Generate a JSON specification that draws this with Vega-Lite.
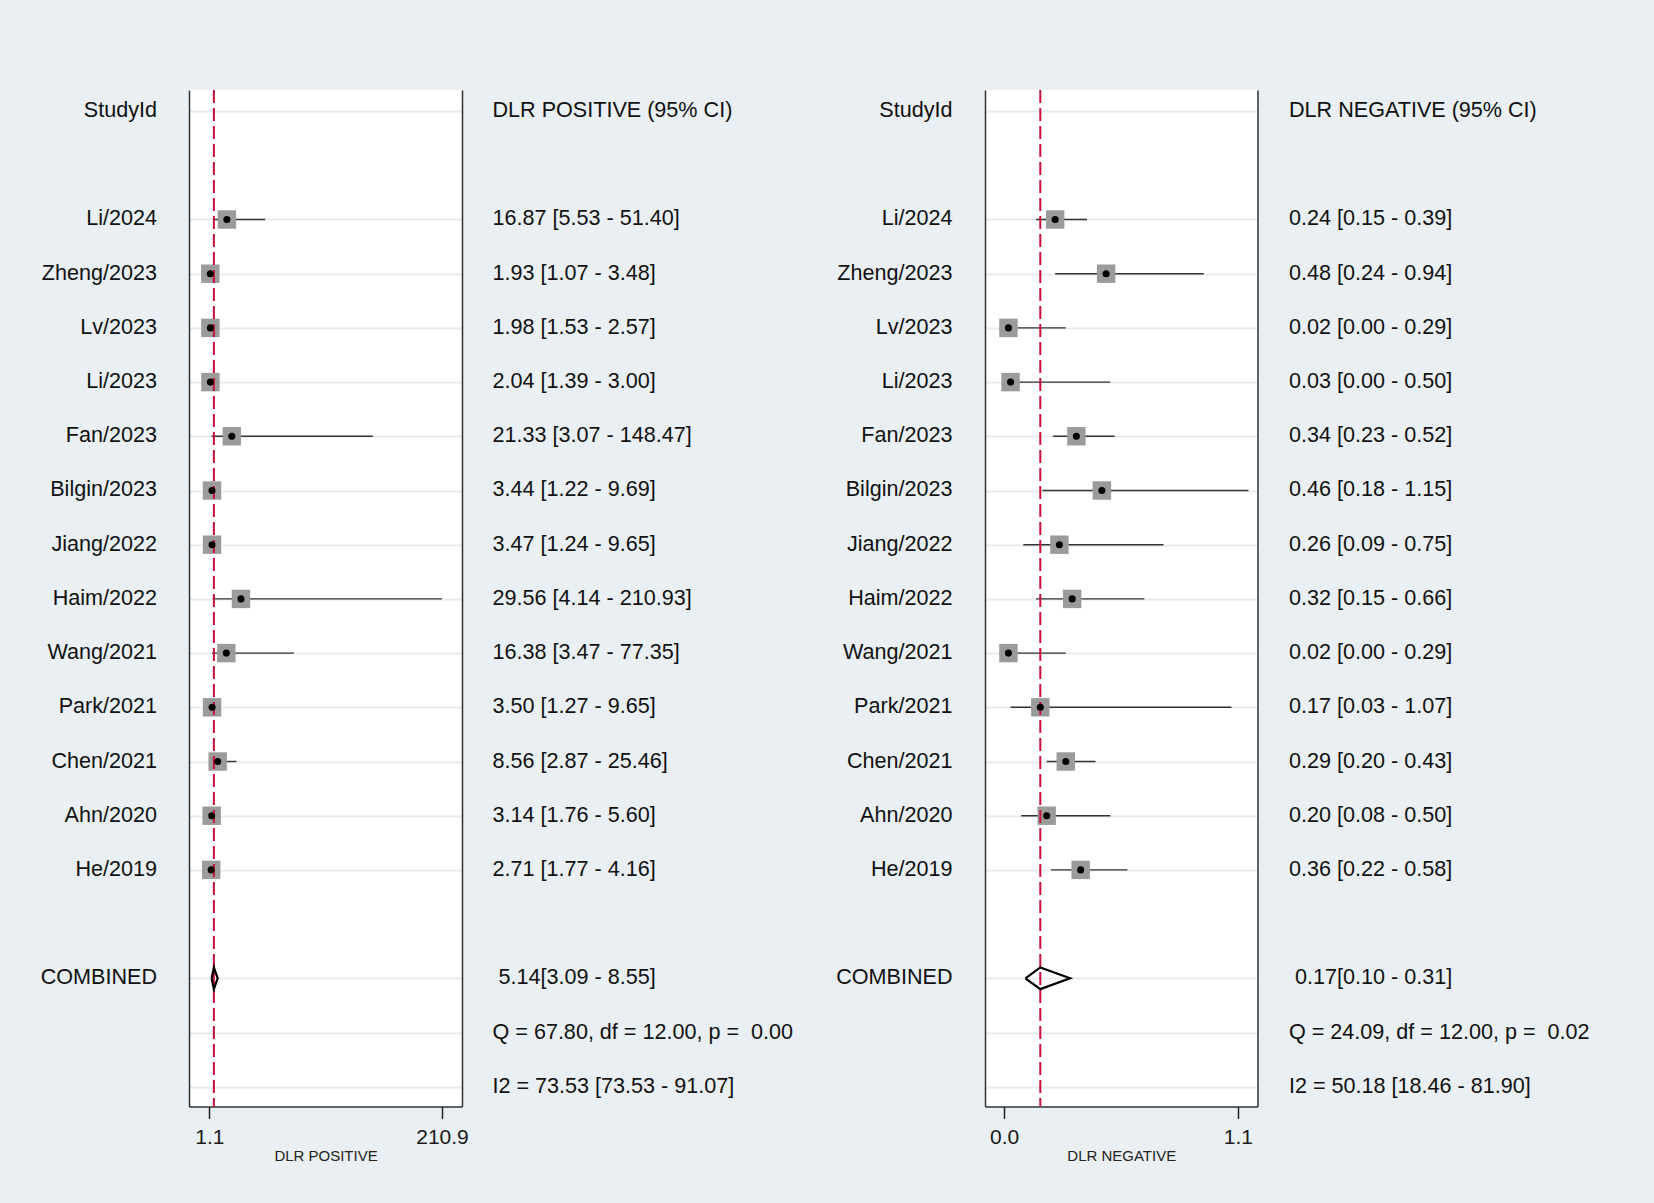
{
  "$schema": "https://vega.github.io/schema/vega-lite/v6.json",
  "background": "#e9eff2",
  "padding": {"left": 0, "top": 89, "right": 0, "bottom": 40},
  "spacing": 32,
  "bounds": "flush",
  "config": {
    "font": "Liberation Sans",
    "view": {"stroke": null},
    "axis": {
      "labelFont": "Liberation Sans",
      "titleFont": "Liberation Sans",
      "labelFontSize": 21,
      "labelColor": "#1a1a1a",
      "labelPadding": 8,
      "tickSize": 12,
      "tickWidth": 1.5,
      "tickColor": "#222222",
      "titleFontSize": 15,
      "titleFontWeight": "normal",
      "titleColor": "#222222",
      "titlePadding": 1,
      "domainColor": "#333333",
      "domainWidth": 1.5
    }
  },
  "datasets": {
    "labels": [
      {"row": 0, "study": "StudyId", "pos_text": "DLR POSITIVE (95% CI)", "neg_text": "DLR NEGATIVE (95% CI)"},
      {"row": 2, "study": "Li/2024", "pos_text": "16.87 [5.53 - 51.40]", "neg_text": "0.24 [0.15 - 0.39]"},
      {"row": 3, "study": "Zheng/2023", "pos_text": "1.93 [1.07 - 3.48]", "neg_text": "0.48 [0.24 - 0.94]"},
      {"row": 4, "study": "Lv/2023", "pos_text": "1.98 [1.53 - 2.57]", "neg_text": "0.02 [0.00 - 0.29]"},
      {"row": 5, "study": "Li/2023", "pos_text": "2.04 [1.39 - 3.00]", "neg_text": "0.03 [0.00 - 0.50]"},
      {"row": 6, "study": "Fan/2023", "pos_text": "21.33 [3.07 - 148.47]", "neg_text": "0.34 [0.23 - 0.52]"},
      {"row": 7, "study": "Bilgin/2023", "pos_text": "3.44 [1.22 - 9.69]", "neg_text": "0.46 [0.18 - 1.15]"},
      {"row": 8, "study": "Jiang/2022", "pos_text": "3.47 [1.24 - 9.65]", "neg_text": "0.26 [0.09 - 0.75]"},
      {"row": 9, "study": "Haim/2022", "pos_text": "29.56 [4.14 - 210.93]", "neg_text": "0.32 [0.15 - 0.66]"},
      {"row": 10, "study": "Wang/2021", "pos_text": "16.38 [3.47 - 77.35]", "neg_text": "0.02 [0.00 - 0.29]"},
      {"row": 11, "study": "Park/2021", "pos_text": "3.50 [1.27 - 9.65]", "neg_text": "0.17 [0.03 - 1.07]"},
      {"row": 12, "study": "Chen/2021", "pos_text": "8.56 [2.87 - 25.46]", "neg_text": "0.29 [0.20 - 0.43]"},
      {"row": 13, "study": "Ahn/2020", "pos_text": "3.14 [1.76 - 5.60]", "neg_text": "0.20 [0.08 - 0.50]"},
      {"row": 14, "study": "He/2019", "pos_text": "2.71 [1.77 - 4.16]", "neg_text": "0.36 [0.22 - 0.58]"},
      {"row": 16, "study": "COMBINED", "pos_text": "5.14[3.09 - 8.55]", "neg_text": "0.17[0.10 - 0.31]"},
      {"row": 17, "study": "", "pos_text": "Q = 67.80, df = 12.00, p = \u00a00.00", "neg_text": "Q = 24.09, df = 12.00, p = \u00a00.02"},
      {"row": 18, "study": "", "pos_text": "I2 = 73.53 [73.53 - 91.07]", "neg_text": "I2 = 50.18 [18.46 - 81.90]"}
    ],
    "studies": [
      {"row": 2, "study": "Li/2024", "pos": 16.87, "pos_lo": 5.53, "pos_hi": 51.40, "neg": 0.24, "neg_lo": 0.15, "neg_hi": 0.39},
      {"row": 3, "study": "Zheng/2023", "pos": 1.93, "pos_lo": 1.07, "pos_hi": 3.48, "neg": 0.48, "neg_lo": 0.24, "neg_hi": 0.94},
      {"row": 4, "study": "Lv/2023", "pos": 1.98, "pos_lo": 1.53, "pos_hi": 2.57, "neg": 0.02, "neg_lo": 0.00, "neg_hi": 0.29},
      {"row": 5, "study": "Li/2023", "pos": 2.04, "pos_lo": 1.39, "pos_hi": 3.00, "neg": 0.03, "neg_lo": 0.00, "neg_hi": 0.50},
      {"row": 6, "study": "Fan/2023", "pos": 21.33, "pos_lo": 3.07, "pos_hi": 148.47, "neg": 0.34, "neg_lo": 0.23, "neg_hi": 0.52},
      {"row": 7, "study": "Bilgin/2023", "pos": 3.44, "pos_lo": 1.22, "pos_hi": 9.69, "neg": 0.46, "neg_lo": 0.18, "neg_hi": 1.15},
      {"row": 8, "study": "Jiang/2022", "pos": 3.47, "pos_lo": 1.24, "pos_hi": 9.65, "neg": 0.26, "neg_lo": 0.09, "neg_hi": 0.75},
      {"row": 9, "study": "Haim/2022", "pos": 29.56, "pos_lo": 4.14, "pos_hi": 210.93, "neg": 0.32, "neg_lo": 0.15, "neg_hi": 0.66},
      {"row": 10, "study": "Wang/2021", "pos": 16.38, "pos_lo": 3.47, "pos_hi": 77.35, "neg": 0.02, "neg_lo": 0.00, "neg_hi": 0.29},
      {"row": 11, "study": "Park/2021", "pos": 3.50, "pos_lo": 1.27, "pos_hi": 9.65, "neg": 0.17, "neg_lo": 0.03, "neg_hi": 1.07},
      {"row": 12, "study": "Chen/2021", "pos": 8.56, "pos_lo": 2.87, "pos_hi": 25.46, "neg": 0.29, "neg_lo": 0.20, "neg_hi": 0.43},
      {"row": 13, "study": "Ahn/2020", "pos": 3.14, "pos_lo": 1.76, "pos_hi": 5.60, "neg": 0.20, "neg_lo": 0.08, "neg_hi": 0.50},
      {"row": 14, "study": "He/2019", "pos": 2.71, "pos_lo": 1.77, "pos_hi": 4.16, "neg": 0.36, "neg_lo": 0.22, "neg_hi": 0.58}
    ],
    "pooled": [
      {"row": 16, "pos": 5.14, "pos_lo": 3.09, "pos_hi": 8.55, "neg": 0.17, "neg_lo": 0.10, "neg_hi": 0.31}
    ],
    "diamond": [
      {"k": 0, "row": 16, "pos": 3.09, "neg": 0.10},
      {"k": 1, "row": 15.8, "pos": 5.14, "neg": 0.17},
      {"k": 2, "row": 16, "pos": 8.55, "neg": 0.31},
      {"k": 3, "row": 16.2, "pos": 5.14, "neg": 0.17},
      {"k": 4, "row": 16, "pos": 3.09, "neg": 0.10}
    ]
  },
  "hconcat": [
    {
      "width": 157,
      "height": 1016.4,
      "data": {"name": "labels"},
      "mark": {"type": "text", "align": "right", "baseline": "middle", "fontSize": 21.6, "color": "#111111"},
      "encoding": {
        "x": {"value": "width"},
        "y": {"field": "row", "type": "quantitative", "scale": {"domain": [-0.389, 18.363], "reverse": true, "nice": false, "zero": false}, "axis": null},
        "text": {"field": "study"}
      }
    },
    {
      "width": 273,
      "height": 1016.4,
      "view": {"fill": "white", "stroke": null},
      "resolve": {"axis": {"x": "independent", "y": "independent"}},
      "layer": [
        {
          "data": {"name": "studies"},
          "mark": {"type": "rule", "color": "#333333", "strokeWidth": 1.4},
          "encoding": {
            "x": {"field": "pos_lo", "type": "quantitative", "scale": {"domain": [-17.3, 228.94], "nice": false, "zero": false},
                  "axis": {"values": [1.1, 210.9], "format": ".1f", "title": "DLR POSITIVE", "grid": false}},
            "x2": {"field": "pos_hi"},
            "y": {"field": "row", "type": "quantitative", "scale": {"domain": [-0.389, 18.363], "reverse": true, "nice": false, "zero": false},
                  "axis": {"orient": "left", "labels": false, "ticks": false, "title": null, "grid": true, "values": [0, 2, 3, 4, 5, 6, 7, 8, 9, 10, 11, 12, 13, 14, 16, 17, 18], "gridColor": "#e6edf0", "gridWidth": 2}}
          }
        },
        {
          "data": {"name": "studies"},
          "mark": {"type": "point", "shape": "square", "filled": true, "color": "#9b9b9b", "size": 340, "opacity": 1},
          "encoding": {
            "x": {"field": "pos", "type": "quantitative", "scale": {"domain": [-17.3, 228.94], "nice": false, "zero": false}, "axis": null},
            "y": {"field": "row", "type": "quantitative", "scale": {"domain": [-0.389, 18.363], "reverse": true, "nice": false, "zero": false}, "axis": null}
          }
        },
        {
          "data": {"name": "pooled"},
          "mark": {"type": "rule", "color": "#c8103a", "strokeWidth": 2, "strokeDash": [13, 5]},
          "encoding": {
            "x": {"field": "pos", "type": "quantitative", "scale": {"domain": [-17.3, 228.94], "nice": false, "zero": false}, "axis": null}
          }
        },
        {
          "data": {"name": "studies"},
          "mark": {"type": "point", "shape": "circle", "filled": true, "color": "#000000", "size": 50, "opacity": 1},
          "encoding": {
            "x": {"field": "pos", "type": "quantitative", "scale": {"domain": [-17.3, 228.94], "nice": false, "zero": false}, "axis": null},
            "y": {"field": "row", "type": "quantitative", "scale": {"domain": [-0.389, 18.363], "reverse": true, "nice": false, "zero": false},
                  "axis": {"orient": "right", "labels": false, "ticks": false, "title": null, "grid": false}}
          }
        },
        {
          "data": {"name": "diamond"},
          "mark": {"type": "line", "color": "#000000", "strokeWidth": 2.2, "strokeJoin": "miter"},
          "encoding": {
            "x": {"field": "pos", "type": "quantitative", "scale": {"domain": [-17.3, 228.94], "nice": false, "zero": false}, "axis": null},
            "y": {"field": "row", "type": "quantitative", "scale": {"domain": [-0.389, 18.363], "reverse": true, "nice": false, "zero": false}, "axis": null},
            "order": {"field": "k", "type": "quantitative"}
          }
        }
      ]
    },
    {
      "width": 318,
      "height": 1016.4,
      "data": {"name": "labels"},
      "layer": [
        {
          "transform": [{"filter": "datum.row != 16"}],
          "mark": {"type": "text", "align": "left", "baseline": "middle", "fontSize": 21.6, "color": "#111111"},
          "encoding": {
            "x": {"value": -1.5},
            "y": {"field": "row", "type": "quantitative", "scale": {"domain": [-0.389, 18.363], "reverse": true, "nice": false, "zero": false}, "axis": null},
            "text": {"field": "pos_text"}
          }
        },
        {
          "transform": [{"filter": "datum.row == 16"}],
          "mark": {"type": "text", "align": "left", "baseline": "middle", "fontSize": 21.6, "color": "#111111", "dx": 6},
          "encoding": {
            "x": {"value": -1.5},
            "y": {"field": "row", "type": "quantitative", "scale": {"domain": [-0.389, 18.363], "reverse": true, "nice": false, "zero": false}, "axis": null},
            "text": {"field": "pos_text"}
          }
        }
      ]
    },
    {
      "width": 108.5,
      "height": 1016.4,
      "data": {"name": "labels"},
      "mark": {"type": "text", "align": "right", "baseline": "middle", "fontSize": 21.6, "color": "#111111"},
      "encoding": {
        "x": {"value": "width"},
        "y": {"field": "row", "type": "quantitative", "scale": {"domain": [-0.389, 18.363], "reverse": true, "nice": false, "zero": false}, "axis": null},
        "text": {"field": "study"}
      }
    },
    {
      "width": 272.5,
      "height": 1016.4,
      "view": {"fill": "white", "stroke": null},
      "resolve": {"axis": {"x": "independent", "y": "independent"}},
      "layer": [
        {
          "data": {"name": "studies"},
          "mark": {"type": "rule", "color": "#333333", "strokeWidth": 1.4},
          "encoding": {
            "x": {"field": "neg_lo", "type": "quantitative", "scale": {"domain": [-0.0904, 1.1928], "nice": false, "zero": false},
                  "axis": {"values": [0, 1.1], "format": ".1f", "title": "DLR NEGATIVE", "grid": false}},
            "x2": {"field": "neg_hi"},
            "y": {"field": "row", "type": "quantitative", "scale": {"domain": [-0.389, 18.363], "reverse": true, "nice": false, "zero": false},
                  "axis": {"orient": "left", "labels": false, "ticks": false, "title": null, "grid": true, "values": [0, 2, 3, 4, 5, 6, 7, 8, 9, 10, 11, 12, 13, 14, 16, 17, 18], "gridColor": "#e6edf0", "gridWidth": 2}}
          }
        },
        {
          "data": {"name": "studies"},
          "mark": {"type": "point", "shape": "square", "filled": true, "color": "#9b9b9b", "size": 340, "opacity": 1},
          "encoding": {
            "x": {"field": "neg", "type": "quantitative", "scale": {"domain": [-0.0904, 1.1928], "nice": false, "zero": false}, "axis": null},
            "y": {"field": "row", "type": "quantitative", "scale": {"domain": [-0.389, 18.363], "reverse": true, "nice": false, "zero": false}, "axis": null}
          }
        },
        {
          "data": {"name": "pooled"},
          "mark": {"type": "rule", "color": "#c8103a", "strokeWidth": 2, "strokeDash": [13, 5]},
          "encoding": {
            "x": {"field": "neg", "type": "quantitative", "scale": {"domain": [-0.0904, 1.1928], "nice": false, "zero": false}, "axis": null}
          }
        },
        {
          "data": {"name": "studies"},
          "mark": {"type": "point", "shape": "circle", "filled": true, "color": "#000000", "size": 50, "opacity": 1},
          "encoding": {
            "x": {"field": "neg", "type": "quantitative", "scale": {"domain": [-0.0904, 1.1928], "nice": false, "zero": false}, "axis": null},
            "y": {"field": "row", "type": "quantitative", "scale": {"domain": [-0.389, 18.363], "reverse": true, "nice": false, "zero": false},
                  "axis": {"orient": "right", "labels": false, "ticks": false, "title": null, "grid": false}}
          }
        },
        {
          "data": {"name": "diamond"},
          "mark": {"type": "line", "color": "#000000", "strokeWidth": 2.2, "strokeJoin": "miter"},
          "encoding": {
            "x": {"field": "neg", "type": "quantitative", "scale": {"domain": [-0.0904, 1.1928], "nice": false, "zero": false}, "axis": null},
            "y": {"field": "row", "type": "quantitative", "scale": {"domain": [-0.389, 18.363], "reverse": true, "nice": false, "zero": false}, "axis": null},
            "order": {"field": "k", "type": "quantitative"}
          }
        }
      ]
    },
    {
      "width": 365,
      "height": 1016.4,
      "data": {"name": "labels"},
      "layer": [
        {
          "transform": [{"filter": "datum.row != 16"}],
          "mark": {"type": "text", "align": "left", "baseline": "middle", "fontSize": 21.6, "color": "#111111"},
          "encoding": {
            "x": {"value": -1},
            "y": {"field": "row", "type": "quantitative", "scale": {"domain": [-0.389, 18.363], "reverse": true, "nice": false, "zero": false}, "axis": null},
            "text": {"field": "neg_text"}
          }
        },
        {
          "transform": [{"filter": "datum.row == 16"}],
          "mark": {"type": "text", "align": "left", "baseline": "middle", "fontSize": 21.6, "color": "#111111", "dx": 6},
          "encoding": {
            "x": {"value": -1},
            "y": {"field": "row", "type": "quantitative", "scale": {"domain": [-0.389, 18.363], "reverse": true, "nice": false, "zero": false}, "axis": null},
            "text": {"field": "neg_text"}
          }
        }
      ]
    }
  ]
}
